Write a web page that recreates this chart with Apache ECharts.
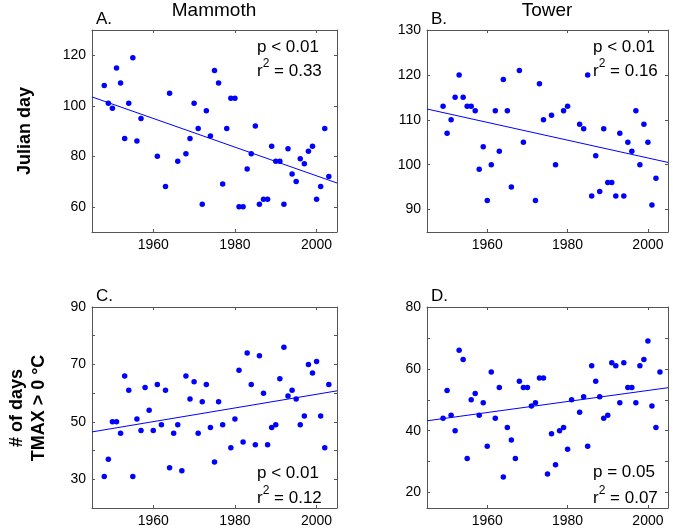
<!DOCTYPE html>
<html>
<head>
<meta charset="utf-8">
<script src="https://cdn.jsdelivr.net/npm/echarts@6/dist/echarts.min.js"></script>
<style>html,body{margin:0;padding:0;background:#fff}#c{width:673px;height:528px}</style>
</head>
<body>
<div id="c"></div>
<script>
// ---- Data ----
const yearsA = [1948,1949,1950,1951,1952,1953,1954,1955,1956,1957,1961,1963,1964,1966,1968,1969,1970,1971,1972,1973,1974,1975,1976,1977,1978,1979,1980,1981,1982,1983,1984,1985,1986,1987,1988,1989,1990,1991,1992,1993,1994,1995,1996,1997,1998,1999,2000,2001,2002,2003];
const valuesA = [108,101,99,115,109,87,101,119,86,95,80,68,105,78,81,87,101,91,61,98,88,114,109,69,91,103,103,60,60,75,81,92,61,63,63,84,78,78,61,83,73,70,79,77,82,84,63,68,91,72];

const yearsB = [1949,1950,1951,1952,1953,1954,1955,1956,1957,1958,1959,1960,1961,1962,1963,1964,1965,1966,1968,1969,1972,1973,1974,1976,1977,1979,1980,1983,1984,1985,1986,1987,1988,1989,1990,1991,1992,1993,1994,1995,1996,1997,1998,1999,2000,2001,2002];
const valuesB = [113,107,110,115,120,115,113,113,112,99,104,92,100,112,103,119,112,95,121,105,92,118,110,111,100,112,113,109,108,120,93,102,94,108,96,96,93,107,93,105,103,112,100,109,105,91,97];

const yearsC = [1948,1949,1950,1951,1952,1953,1954,1955,1956,1957,1958,1959,1960,1961,1962,1963,1964,1965,1966,1967,1968,1969,1970,1971,1972,1973,1974,1975,1976,1977,1979,1980,1981,1982,1983,1984,1985,1986,1987,1988,1989,1990,1991,1992,1993,1994,1995,1996,1997,1998,1999,2000,2001,2002,2003];
const valuesC = [31,37,50,50,46,66,61,31,51,47,62,54,47,63,49,61,34,46,49,33,66,58,64,46,57,63,48,36,57,49,41,51,68,43,74,63,42,73,60,42,48,49,65,76,59,61,58,49,52,70,67,71,52,41,63];

const yearsD = [1949,1950,1951,1952,1953,1954,1955,1956,1957,1958,1959,1960,1961,1962,1963,1964,1965,1966,1967,1968,1969,1970,1971,1972,1973,1974,1975,1976,1977,1978,1979,1980,1981,1983,1984,1985,1986,1987,1988,1989,1990,1991,1992,1993,1994,1995,1996,1997,1998,1999,2000,2001,2002,2003];
const valuesD = [44,53,45,40,66,63,31,50,52,45,49,35,59,44,54,25,41,37,31,56,54,54,48,49,57,57,26,39,29,40,41,34,50,46,51,35,61,56,51,44,45,62,61,49,62,54,54,49,61,63,69,48,41,59];

// regression line end values at the x-range ends
const trendYears = [1945, 2005];
const trendA = [103.5, 69.4];
const trendB = [112.4, 100.5];
const trendC = [46.5, 60.8];
const trendD = [43.2, 53.9];

const xTicks = [1960, 1980, 2000];
const yLabelsA = [60, 80, 100, 120];
const yLabelsB = [90, 100, 110, 120, 130];
const yLabelsC = [30, 50, 70, 90];
const yTicksC = [30, 40, 50, 60, 70, 80, 90];
const yLabelsD = [20, 40, 60, 80];
const yTicksD = [20, 30, 40, 50, 60, 70, 80];

const statsA = ['p < 0.01', '0.33'];
const statsB = ['p < 0.01', '0.16'];
const statsC = ['p < 0.01', '0.12'];
const statsD = ['p = 0.05', '0.07'];

// ---- Chart ----
const FONT = "'Liberation Sans', Arial, Helvetica, sans-serif";
const AX = '#555';
const BLUE = '#0000ff';

const panels = [
  {years: yearsA, vals: valuesA, trend: trendA, ymin: 50, ymax: 130, yLab: yLabelsA, yTick: yLabelsA, grid: {left: 92, top: 30, width: 245, height: 202}},
  {years: yearsB, vals: valuesB, trend: trendB, ymin: 85, ymax: 130, yLab: yLabelsB, yTick: yLabelsB, grid: {left: 427, top: 30, width: 241, height: 202}},
  {years: yearsC, vals: valuesC, trend: trendC, ymin: 20, ymax: 90, yLab: yLabelsC, yTick: yTicksC, grid: {left: 92, top: 307, width: 245, height: 202}},
  {years: yearsD, vals: valuesD, trend: trendD, ymin: 15, ymax: 80, yLab: yLabelsD, yTick: yTicksD, grid: {left: 427, top: 307, width: 241, height: 202}}
];

const plain = v => String(v);
const grid = [], xAxis = [], yAxis = [], series = [];
panels.forEach((p, g) => {
  grid.push(Object.assign({show: false}, p.grid));
  const lineStyle = {show: true, lineStyle: {color: AX, width: 1}};
  ['bottom', 'top'].forEach((pos, k) => {
    xAxis.push({
      type: 'value', gridIndex: g, position: pos, min: 1945, max: 2005,
      axisLine: lineStyle, splitLine: {show: false},
      axisTick: {show: true, inside: true, length: 3, customValues: xTicks, lineStyle: {color: AX}},
      axisLabel: {show: k === 0, customValues: xTicks, formatter: plain, margin: 6, fontSize: 14, color: '#000', fontFamily: FONT}
    });
  });
  ['left', 'right'].forEach((pos, k) => {
    yAxis.push({
      type: 'value', gridIndex: g, position: pos, min: p.ymin, max: p.ymax,
      axisLine: lineStyle, splitLine: {show: false},
      axisTick: {show: true, inside: true, length: 3, customValues: p.yTick, lineStyle: {color: AX}},
      axisLabel: {show: k === 0, customValues: p.yLab, formatter: plain, margin: 6, fontSize: 14, color: '#000', fontFamily: FONT}
    });
  });
  series.push({
    type: 'line', xAxisIndex: 2 * g, yAxisIndex: 2 * g, showSymbol: false, silent: true,
    data: trendYears.map((y, i) => [y, p.trend[i]]),
    lineStyle: {color: BLUE, width: 1}, z: 2
  });
  series.push({
    type: 'scatter', xAxisIndex: 2 * g, yAxisIndex: 2 * g, symbolSize: 5.5,
    data: p.years.map((y, i) => [y, p.vals[i]]),
    itemStyle: {color: BLUE, opacity: 1}, z: 3
  });
});

function txt(x, y, text, size, opts) {
  return Object.assign({
    type: 'text', x: x, y: y,
    style: Object.assign({text: text, fontSize: size, fontFamily: FONT, fill: '#000',
      align: 'left', verticalAlign: 'middle', textAlign: 'left', textVerticalAlign: 'middle'}, (opts && opts.style) || {})
  }, (opts && opts.el) || {});
}
function rText(x, y, val) {
  return {
    type: 'text', x: x, y: y,
    style: {
      text: '{a|r}{s|2}{a| = ' + val + '}', fill: '#000', align: 'left', verticalAlign: 'middle',
      textAlign: 'left', textVerticalAlign: 'middle',
      rich: {
        a: {fontSize: 17, fontFamily: FONT, lineHeight: 22, verticalAlign: 'bottom'},
        s: {fontSize: 12, fontFamily: FONT, lineHeight: 12, verticalAlign: 'top'}
      }
    }
  };
}
const center = {style: {align: 'center', textAlign: 'center'}};
const graphic = [
  txt(214, 11, 'Mammoth', 19, center),
  txt(547, 11, 'Tower', 19, center),
  txt(96, 19, 'A.', 17), txt(431, 19, 'B.', 17),
  txt(96, 296, 'C.', 17), txt(431, 296, 'D.', 17),
  txt(257, 47, statsA[0], 17), rText(257, 69, statsA[1]),
  txt(593, 47, statsB[0], 17), rText(593, 69, statsB[1]),
  txt(257, 473, statsC[0], 17), rText(257, 496, statsC[1]),
  txt(593, 472, statsD[0], 17), rText(593, 496, statsD[1]),
  txt(25, 131, 'Julian day', 18, {style: {align: 'center', textAlign: 'center', fontWeight: 'bold'}, el: {rotation: Math.PI / 2}}),
  txt(17, 408, '# of days', 18, {style: {align: 'center', textAlign: 'center', fontWeight: 'bold'}, el: {rotation: Math.PI / 2}}),
  txt(39, 408, 'TMAX > 0 °C', 18, {style: {align: 'center', textAlign: 'center', fontWeight: 'bold'}, el: {rotation: Math.PI / 2}})
];

const chart = echarts.init(document.getElementById('c'), null, {renderer: 'canvas'});
chart.setOption({
  animation: false,
  backgroundColor: '#fff',
  grid: grid, xAxis: xAxis, yAxis: yAxis, series: series, graphic: graphic
});
</script>
</body>
</html>
